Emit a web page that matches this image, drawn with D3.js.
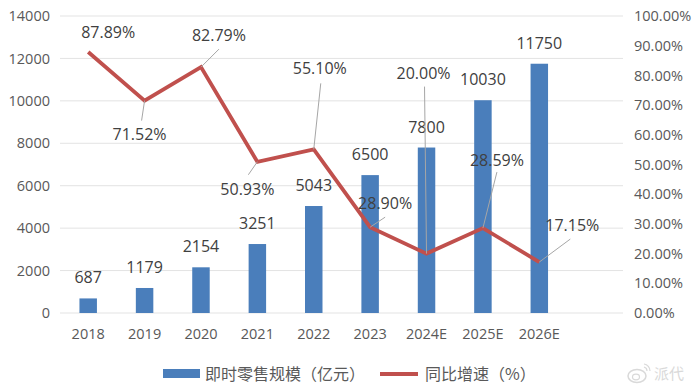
<!DOCTYPE html>
<html><head><meta charset="utf-8">
<script src="https://cdn.jsdelivr.net/npm/d3@7/dist/d3.min.js"></script>
<style>
html,body{margin:0;padding:0;background:#fff;}
svg{display:block;}
</style></head>
<body>
<svg id="chart" width="700" height="389"></svg>
<script>
// ---- data ----
const categories = ["2018","2019","2020","2021","2022","2023","2024E","2025E","2026E"];
const scaleValues = [687,1179,2154,3251,5043,6500,7800,10030,11750];
const growthValues = [87.89,71.52,82.79,50.93,55.10,28.90,20.00,28.59,17.15];
const leftTicks = [0,2000,4000,6000,8000,10000,12000,14000];
const rightTicks = [0,10,20,30,40,50,60,70,80,90,100];
const seriesNames = ["即时零售规模（亿元）","同比增速（%）"];

// ---- layout (label placements, px relative to point) ----
const labelOffsets = [[20,-20],[-5,34],[18,-32],[-10,28],[6,-81],[15,-24],[-3,-180],[14,-68],[33,-37]];
const leaderEnds = [null,[-3,20],[18,-18],[-9,13],[7,-66],[15,-10],[-2,-167],[14,-56],[31,-23]];

(function(){
const svg = d3.select("#chart");
const plotL = 60, plotR = 623, plotTop = 16, plotBottom = 313;
const numFont = "'Open Sans','Liberation Sans',sans-serif";
const cjkFont = "'Noto Sans CJK SC','Noto Sans',sans-serif";

const x = d3.scaleBand().domain(categories).range([60, 567.5]).paddingInner(0.69).paddingOuter(0.345);
const yL = d3.scaleLinear().domain([0,14000]).range([plotBottom, plotTop]);
const yR = d3.scaleLinear().domain([0,100]).range([plotBottom, plotTop]);

// gridlines
svg.append("g").selectAll("line").data(leftTicks).join("line")
  .attr("x1", plotL).attr("x2", plotR)
  .attr("y1", d => yL(d)).attr("y2", d => yL(d))
  .attr("stroke", "#e3e3e3").attr("stroke-width", 1);

// left axis
const axL = svg.append("g").attr("transform", "translate(50,0)")
  .call(d3.axisLeft(yL).tickValues(leftTicks).tickSize(0).tickPadding(0).tickFormat(d3.format("d")));
axL.select(".domain").remove();
axL.selectAll("text").attr("font-family", numFont).attr("font-size", 14.5).attr("fill", "#595959");

// right axis
const axR = svg.append("g").attr("transform", "translate(634,0)")
  .call(d3.axisRight(yR).tickValues(rightTicks).tickSize(0).tickPadding(0).tickFormat(d => d.toFixed(2) + "%"));
axR.select(".domain").remove();
axR.selectAll("text").attr("font-family", numFont).attr("font-size", 14.5).attr("fill", "#595959");

// bottom axis
const axB = svg.append("g").attr("transform", `translate(0,${plotBottom})`)
  .call(d3.axisBottom(x).tickSize(0).tickPadding(16));
axB.select(".domain").remove();
axB.selectAll("text").attr("font-family", numFont).attr("font-size", 14.5).attr("fill", "#595959");

// bars
svg.append("g").selectAll("rect").data(scaleValues).join("rect")
  .attr("x", (d,i) => x(categories[i]))
  .attr("width", x.bandwidth())
  .attr("y", d => yL(d))
  .attr("height", d => yL(0) - yL(d))
  .attr("fill", "#4a7ebb");

// bar labels
svg.append("g").selectAll("text").data(scaleValues).join("text")
  .attr("x", (d,i) => x(categories[i]) + x.bandwidth()/2)
  .attr("y", d => yL(d) - 15)
  .attr("text-anchor", "middle")
  .attr("font-family", numFont).attr("font-size", 16).attr("fill", "#404040")
  .text(d => d);

// line
const cx = i => x(categories[i]) + x.bandwidth()/2;
const line = d3.line().x((d,i) => cx(i)).y(d => yR(d));
svg.append("path").datum(growthValues)
  .attr("d", line).attr("fill", "none")
  .attr("stroke", "#c0504d").attr("stroke-width", 3.8).attr("stroke-linejoin", "miter");

// leader lines
svg.append("g").selectAll("line").data(growthValues.map((d,i) => ({d,i})).filter(o => leaderEnds[o.i]))
  .join("line")
  .attr("x1", o => cx(o.i)).attr("y1", o => yR(o.d))
  .attr("x2", o => cx(o.i) + leaderEnds[o.i][0]).attr("y2", o => yR(o.d) + leaderEnds[o.i][1])
  .attr("stroke", "#a6a6a6").attr("stroke-width", 1);

// percent labels
svg.append("g").selectAll("text").data(growthValues).join("text")
  .attr("x", (d,i) => cx(i) + labelOffsets[i][0])
  .attr("y", (d,i) => yR(d) + labelOffsets[i][1])
  .attr("dy", "0.35em")
  .attr("text-anchor", "middle")
  .attr("font-family", numFont).attr("font-size", 16).attr("fill", "#404040")
  .text(d => d.toFixed(2) + "%");

// legend
const leg = svg.append("g");
leg.append("rect").attr("x", 163).attr("y", 369).attr("width", 37).attr("height", 9).attr("fill", "#4a7ebb");
leg.append("text").attr("x", 205).attr("y", 374).attr("dy", "0.35em")
  .attr("font-family", cjkFont).attr("font-size", 16).attr("fill", "#595959").text(seriesNames[0]);
leg.append("line").attr("x1", 380).attr("x2", 418).attr("y1", 374).attr("y2", 374)
  .attr("stroke", "#c0504d").attr("stroke-width", 3.8);
leg.append("text").attr("x", 425).attr("y", 374).attr("dy", "0.35em")
  .attr("font-family", cjkFont).attr("font-size", 16).attr("fill", "#595959").text(seriesNames[1]);

// watermark
const wm = svg.append("g").attr("opacity", 0.55);
wm.append("ellipse").attr("cx", 637).attr("cy", 376).attr("rx", 9).attr("ry", 6.5)
  .attr("fill", "none").attr("stroke", "#bbb").attr("stroke-width", 1.5);
wm.append("ellipse").attr("cx", 636).attr("cy", 377).attr("rx", 3.5).attr("ry", 2.8)
  .attr("fill", "none").attr("stroke", "#bbb").attr("stroke-width", 1.2);
wm.append("path").attr("d", "M644,364 a7,7 0 0 1 6,7 M644,367 a4,4 0 0 1 3,4")
  .attr("fill", "none").attr("stroke", "#bbb").attr("stroke-width", 1.2);
wm.append("text").attr("x", 654).attr("y", 374).attr("dy", "0.35em")
  .attr("font-family", cjkFont).attr("font-size", 15).attr("fill", "#bbb").text("派代");
})();
</script>
</body></html>
